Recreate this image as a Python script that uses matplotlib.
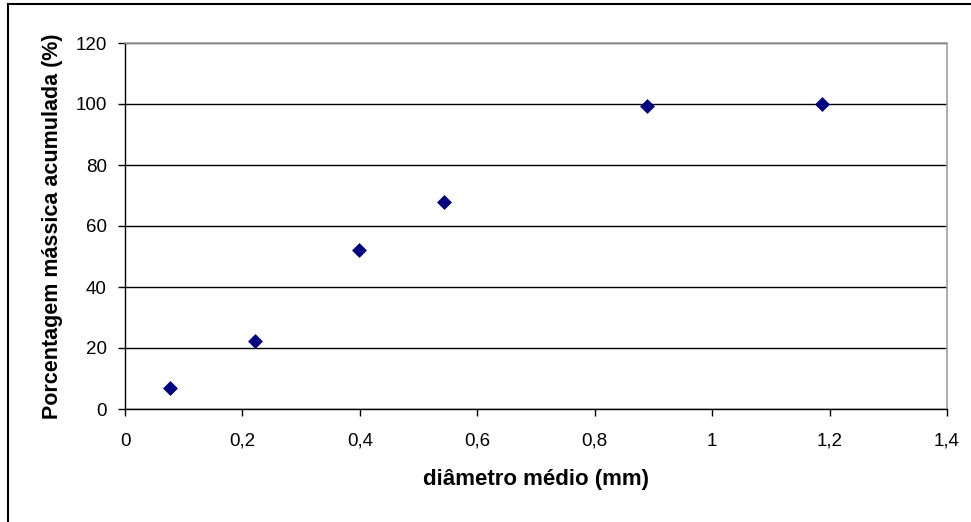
import matplotlib
matplotlib.use("Agg")
import matplotlib.pyplot as plt
from matplotlib.lines import Line2D
from matplotlib.ticker import FuncFormatter, MultipleLocator

# diâmetro médio (mm) vs porcentagem mássica acumulada (%)
diametro = [0.077, 0.221, 0.398, 0.543, 0.889, 1.187]
porcentagem = [7.0, 22.2, 52.0, 68.0, 99.3, 100.0]

W, H = 971, 522
plt.rcParams["font.family"] = ["Liberation Sans", "DejaVu Sans"]

fig = plt.figure(figsize=(W / 100, H / 100), dpi=100)
ax = fig.add_axes([125 / W, (H - 409) / H, 822 / W, 366 / H])

ax.scatter(diametro, porcentagem, marker="D", s=50, color="#000080",
           edgecolors="#000080", linewidths=0.5, zorder=3, clip_on=False)

ax.set_xlim(0, 1.4)
ax.set_ylim(0, 120)
ax.xaxis.set_major_locator(MultipleLocator(0.2))
ax.yaxis.set_major_locator(MultipleLocator(20))


def _comma(v, _pos):
    s = f"{v:.1f}".rstrip("0").rstrip(".")
    return s.replace(".", ",")


ax.xaxis.set_major_formatter(FuncFormatter(_comma))
ax.yaxis.set_major_formatter(FuncFormatter(lambda v, p: f"{v:.0f}"))

ax.grid(True, axis="y", color="black", linewidth=1.0)
ax.set_axisbelow(True)
for side in ("left", "bottom"):
    ax.spines[side].set_color("black")
    ax.spines[side].set_linewidth(1.0)
for side in ("top", "right"):
    ax.spines[side].set_color("#a0a0a0")
    ax.spines[side].set_linewidth(1.2)

ax.tick_params(axis="both", direction="out", length=5, width=1.0,
               labelsize=13.5, colors="black")
ax.tick_params(axis="x", pad=12)
ax.tick_params(axis="y", pad=8)

ax.set_xlabel("diâmetro médio (mm)", fontsize=16, fontweight="bold", labelpad=14)
ax.set_ylabel("Porcentagem mássica acumulada (%)", fontsize=15.5,
              fontweight="bold", labelpad=9)

# outer chart frame (only left/top edges visible in the crop)
fig.add_artist(Line2D([8 / W, 8 / W], [0, 1 - 4 / H], color="black",
                      linewidth=1.5, transform=fig.transFigure))
fig.add_artist(Line2D([8 / W, 1], [1 - 4 / H, 1 - 4 / H], color="black",
                      linewidth=1.5, transform=fig.transFigure))

fig.savefig("out.png", dpi=100)
